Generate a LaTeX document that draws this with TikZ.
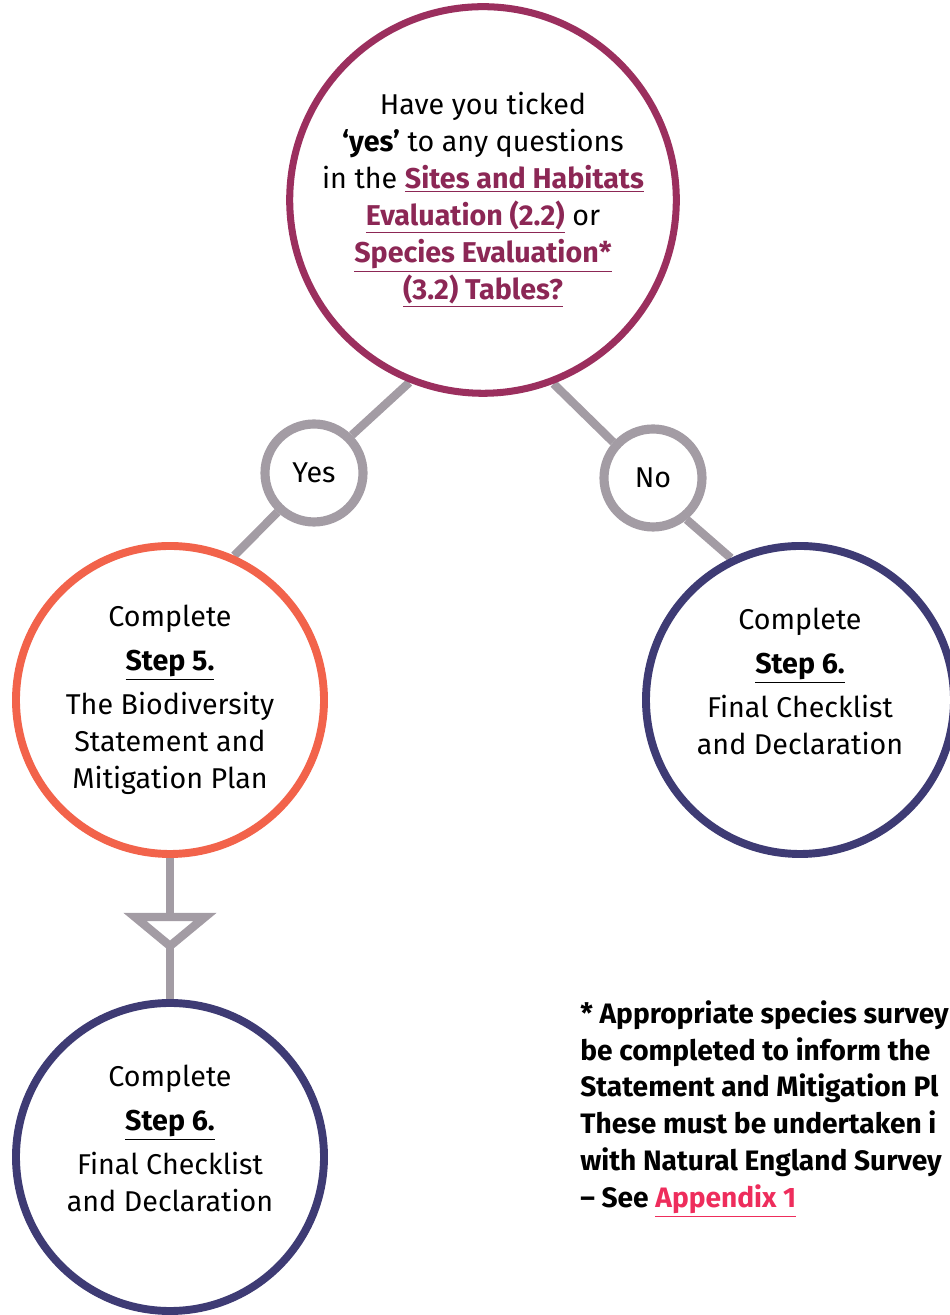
\documentclass[tikz,border=0pt]{standalone}
\usepackage{fontspec}
\setmainfont{Fira Sans}
\usepackage{xcolor}
\usetikzlibrary{backgrounds}

\definecolor{askred}{HTML}{9B2F5E}
\definecolor{linkred}{HTML}{8C2755}
\definecolor{stepred}{HTML}{F2634B}
\definecolor{stepblue}{HTML}{3E3B74}
\definecolor{ringgrey}{HTML}{A39CA4}
\definecolor{apppink}{HTML}{EE2D5C}

\newcommand{\lnk}[1]{\textcolor{linkred}{\textbf{\underline{#1}}}}

\begin{document}
\begin{tikzpicture}[
  circ/.style={circle, fill=white, align=center, inner sep=0pt,
               font=\fontsize{16.3}{21}\selectfont},
  ask/.style={circ, draw=askred, line width=4pt, minimum size=7.58cm},
  answer/.style={circ, draw=ringgrey, line width=5.2pt, minimum size=1.96cm},
  stepcirc/.style={circ, line width=4.5pt, minimum size=6.16cm},
  arr/.style={draw=ringgrey, line width=4.8pt},
  note/.style={align=left, inner sep=0pt, font=\fontsize{16}{21}\selectfont\bfseries}
]
\clip (0,0) rectangle (19,26.3);

% Question
\node[ask] (ask) at (9.66,22.3)
  {Have you ticked\\
   \textbf{‘yes’} to any questions\\
   in the \lnk{Sites and Habitats}\\
   \lnk{Evaluation (2.2)} or\\
   \lnk{Species Evaluation*}\\
   \lnk{(3.2) Tables?}};

% Answers
\node[answer] (yes) at (6.28,16.84) {Yes};
\node[answer] (no)  at (13.06,16.74) {No};

% Steps
\node[stepcirc, draw=stepred] (s5) at (3.4,12.3)
  {Complete\\[4pt]
   \underline{\textbf{Step 5.}}\\[4pt]
   The Biodiversity\\
   Statement and\\
   Mitigation Plan};
\node[stepcirc, draw=stepblue] (s6a) at (16.0,12.3)
  {Complete\\[4pt]
   \underline{\textbf{Step 6.}}\\[4pt]
   Final Checklist\\
   and Declaration\\
   \mbox{}};
\node[stepcirc, draw=stepblue] (s6b) at (3.4,3.16)
  {Complete\\[4pt]
   \underline{\textbf{Step 6.}}\\[4pt]
   Final Checklist\\
   and Declaration\\
   \mbox{}};

% Connectors
\begin{scope}[on background layer]
\draw[arr] (ask.248) -- (yes.45);
\draw[arr] (yes.227) -- (s5.66);
\draw[arr] (ask.291) -- (no.138);
\draw[arr] (no.309)  -- (s6a.116);
\draw[arr] (s5.south) -- (s6b.north);
\end{scope}
\coordinate (tip) at (3.4,7.38);
\draw[arr, fill=white, line join=miter] (tip) -- ++(-0.7,0.58) -- ++(1.4,0) -- cycle;

% Footnote
\node[note, anchor=north west] (note) at (11.6,6.3)
  {* Appropriate species survey\\
   be completed to inform the\\
   Statement and Mitigation Pl\\
   These must be undertaken i\\
   with Natural England Survey\\
   -- See \textcolor{apppink}{\underline{Appendix 1}}};
\end{tikzpicture}
\end{document}
